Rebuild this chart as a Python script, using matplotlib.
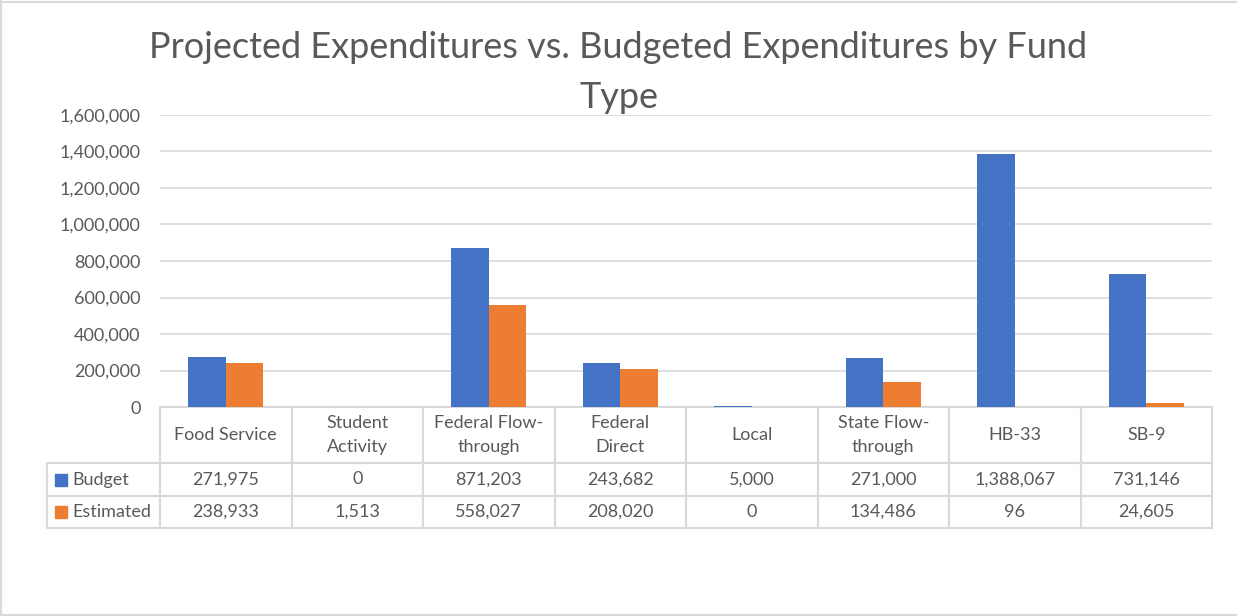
import matplotlib.pyplot as plt
from matplotlib.table import Table
from matplotlib.patches import Rectangle
from matplotlib.lines import Line2D
import numpy as np

categories = ["Food Service", "Student\nActivity", "Federal Flow-\nthrough", "Federal\nDirect",
              "Local", "State Flow-\nthrough", "HB-33", "SB-9"]
budget = [271975, 0, 871203, 243682, 5000, 271000, 1388067, 731146]
estimated = [238933, 1513, 558027, 208020, 0, 134486, 96, 24605]
series_names = ["Budget", "Estimated"]
yticks = [0, 200000, 400000, 600000, 800000, 1000000, 1200000, 1400000, 1600000]

BLUE = '#4472C4'
ORANGE = '#ED7D31'
TXT = '#595959'
GRID = '#D9D9D9'
W, H = 1237, 616
FS = 13

plt.rcParams['font.family'] = ['Lato', 'DejaVu Sans']

fig = plt.figure(figsize=(W / 100, H / 100), dpi=100)


def fx(px):
    return px / W


def fy(py):
    return 1 - py / H


# plot area in pixels of the reference
left, right, top, bottom = 160, 1212, 115, 407
ax = fig.add_axes([fx(left), fy(bottom), fx(right - left), (bottom - top) / H])

x = np.arange(len(categories))
bw = 0.285
ax.bar(x - bw / 2, budget, bw, color=BLUE, zorder=2)
ax.bar(x + bw / 2, estimated, bw, color=ORANGE, zorder=2)

ax.set_xlim(-0.5, len(categories) - 0.5)
ax.set_ylim(0, 1600000)
ax.set_yticks(yticks)
ax.set_yticklabels([f"{v:,}" for v in yticks])
ax.set_xticks([])
ax.tick_params(axis='y', length=0, pad=14, labelsize=FS, labelcolor=TXT)
ax.yaxis.grid(True, color=GRID, lw=1.2, zorder=0)
for s in ax.spines.values():
    s.set_visible(False)

# data table under the plot (column 0 holds the series names)
tab_left, tab_bottom = 47, 528
tbl = Table(ax, bbox=[(tab_left - left) / (right - left), -(tab_bottom - bottom) / (bottom - top),
                      (right - tab_left) / (right - left), (tab_bottom - bottom) / (bottom - top)])
lab_w, col_w = 113 / 1000, 131.5 / 1000
row_h = [56 / 1000, 33 / 1000, 32 / 1000]
for j, cat in enumerate(categories):
    tbl.add_cell(0, j + 1, col_w, row_h[0], text=cat, loc='center')
for i, vals in enumerate([budget, estimated]):
    tbl.add_cell(i + 1, 0, lab_w, row_h[i + 1], text='', loc='left')
    for j, v in enumerate(vals):
        tbl.add_cell(i + 1, j + 1, col_w, row_h[i + 1], text=f"{v:,}", loc='center')
tbl.auto_set_font_size(False)
tbl.set_fontsize(FS)
for cell in tbl.get_celld().values():
    cell.set_edgecolor(GRID)
    cell.set_linewidth(1.5)
    cell.get_text().set_color(TXT)
    cell.get_text().set_linespacing(1.65)
ax.add_table(tbl)

# legend keys in the label column
row_centers = [479.5, 512]
for name, color, yc in zip(series_names, [BLUE, ORANGE], row_centers):
    fig.patches.append(Rectangle((fx(55), fy(yc + 6)), fx(12), 12 / H, color=color,
                                 transform=fig.transFigure))
    fig.text(fx(72), fy(yc), name, ha='left', va='center', fontsize=FS, color=TXT)

fig.text(0.5, fy(47), "Projected Expenditures vs. Budgeted Expenditures by Fund",
         ha='center', va='center', fontsize=26, color=TXT)
fig.text(0.5, fy(97), "Type", ha='center', va='center', fontsize=26, color=TXT)

# outer chart border
for xs, ys in [((0.0008, 0.0008), (0, 1)), ((0, 1), (fy(1.5), fy(1.5))), ((0, 1), (fy(614.5), fy(614.5)))]:
    fig.lines.append(Line2D(xs, ys, color=GRID, lw=1.5, transform=fig.transFigure))

fig.savefig('out.png', dpi=100, facecolor='white')
